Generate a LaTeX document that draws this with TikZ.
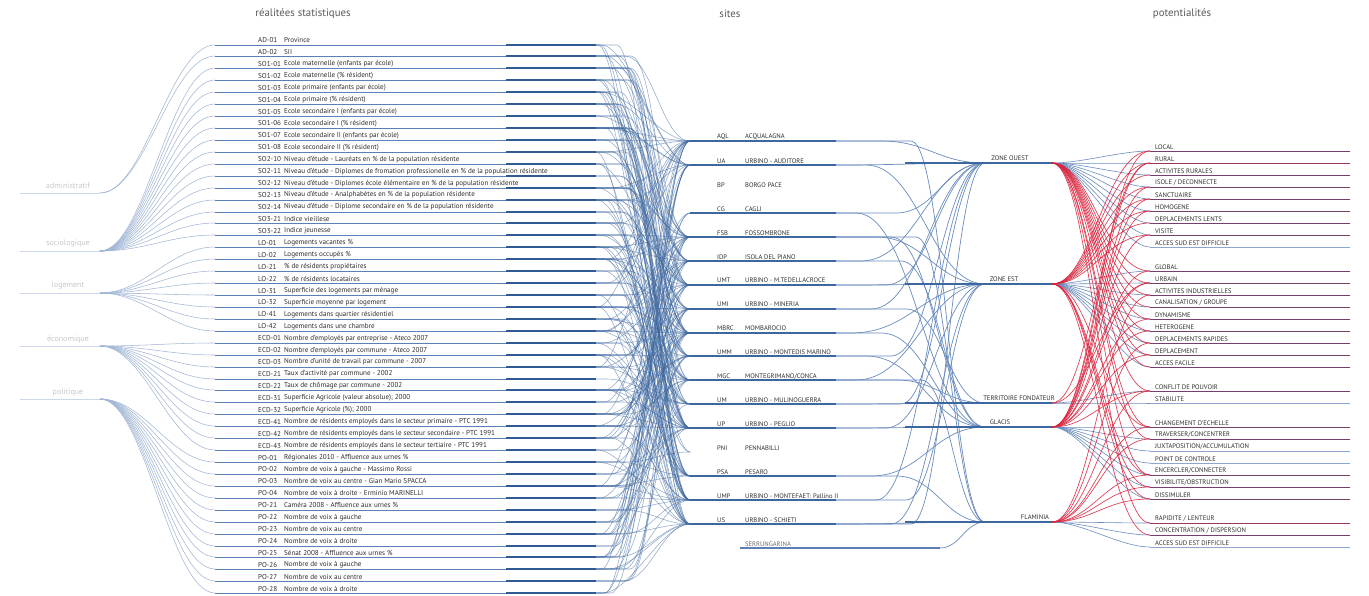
\documentclass[tikz,border=0pt]{standalone}
\usepackage{fontspec}
\setmainfont{PT Sans}
\usetikzlibrary{calc}
\definecolor{txt}{HTML}{2E2E2E}
\definecolor{head}{HTML}{5A5A5A}
\definecolor{catgray}{HTML}{C8C8C8}
\definecolor{bl}{HTML}{3D679F}
\definecolor{bld}{HTML}{2F5A94}
\definecolor{blr}{HTML}{5A80B5}
\definecolor{blm}{HTML}{6A8CBE}
\definecolor{blc}{HTML}{A3B8D6}
\definecolor{bll}{HTML}{CCD8EA}
\definecolor{rd}{HTML}{D9263F}
\definecolor{pu}{HTML}{74406E}
\definecolor{pr}{HTML}{9B3560}
\definecolor{pb}{HTML}{8DA7CE}
\begin{document}
\begin{tikzpicture}[x=1pt,y=-1pt,
 lbl/.style={anchor=west,inner sep=0pt,font=\fontsize{7.1}{8}\selectfont,text=txt},
 clbl/.style={anchor=west,inner sep=0pt,font=\fontsize{6.6}{7}\selectfont,text=txt},
 zlbl/.style={inner sep=0pt,font=\fontsize{6.6}{7}\selectfont,text=txt},
 catlbl/.style={inner sep=0pt,font=\fontsize{8}{9}\selectfont,text=catgray},
 headlbl/.style={inner sep=0pt,font=\fontsize{10.8}{12}\selectfont,text=head},
 catline/.style={draw=bll,line width=0.9},
 catcurve/.style={draw=blc,line width=0.55},
 rowline/.style={draw=blr,line width=1.0},
 rowdark/.style={draw=bld,line width=1.2},
 rscurve/.style={draw=bl,line width=0.55,opacity=0.55},
 siteline/.style={draw=bl,line width=1.1},
 szcurve/.style={draw=blm,line width=0.7},
 zoneline/.style={draw=bl,line width=1.2},
 bfan/.style={draw=blm,line width=0.6},
 rfan/.style={draw=rd,line width=0.65,opacity=0.9},
 potline/.style={line width=1.0},
]
\useasboundingbox (0,0) rectangle (1369,595);
\fill[white] (0,0) rectangle (1369,595);

% headers
\node[headlbl] (h1) at (303,14) {réalitées statistiques};
\node[headlbl] (h2) at (730,14) {sites};
\node[headlbl] (h3) at (1182,14) {potentialités};

% categories
\foreach \kk/\cy/\ctext in {1/193/administratif,2/251/sociologique,3/293/logement,4/346/économique,5/399/politique}{
  \node[catlbl] (cl\kk) at (68,\cy-7) {\ctext};
  \coordinate (cs\kk) at (20,\cy);
  \coordinate (c\kk) at (100,\cy);
  \draw[catline] (cs\kk) -- (c\kk);
}

% rows
\foreach \rcode/\rname [count=\ii] in {AD-01/Province,AD-02/SII,
SO1-01/Ecole maternelle (enfants par école),SO1-02/Ecole maternelle (\% résident),
SO1-03/Ecole primaire (enfants par école),SO1-04/Ecole primaire (\% résident),
SO1-05/Ecole secondaire I (enfants par école),SO1-06/Ecole secondaire I (\% résident),
SO1-07/Ecole secondaire II (enfants par école),SO1-08/Ecole secondaire II (\% résident),
SO2-10/Niveau d'étude - Lauréats en \% de la population résidente,
SO2-11/Niveau d'étude - Diplomes de fromation professionelle en \% de la population résidente,
SO2-12/Niveau d'étude - Diplomes école élémentaire en \% de la population résidente,
SO2-13/Niveau d'étude - Analphabètes en \% de la population résidente,
SO2-14/Niveau d'étude - Diplome secondaire en \% de la population résidente,
SO3-21/Indice vieillese,SO3-22/Indice jeunesse,
LO-01/Logements vacantes \%,LO-02/Logements occupés \%,
LO-21/\% de résidents propiétaires,LO-22/\% de résidents locataires,
LO-31/Superficie des logements par ménage,LO-32/Superficie moyenne par logement,
LO-41/Logements dans quartier résidentiel,LO-42/Logements dans une chambre,
ECD-01/Nombre d'employés par entreprise - Ateco 2007,
ECD-02/Nombre d'employés par commune - Ateco 2007,
ECD-03/Nombre d'unité de travail par commune - 2007,
ECD-21/Taux d'activité par commune - 2002,
ECD-22/Taux de chômage par commune - 2002,
ECD-31/Superficie Agricole (valeur absolue); 2000,
ECD-32/Superficie Agricole (\%); 2000,
ECD-41/Nombre de résidents employés dans le secteur primaire - PTC 1991,
ECD-42/Nombre de résidents employés dans le secteur secondaire - PTC 1991,
ECD-43/Nombre de résidents employés dans le secteur tertiaire - PTC 1991,
PO-01/Régionales 2010 - Affluence aux urnes \%,
PO-02/Nombre de voix à gauche - Massimo Rossi,
PO-03/Nombre de voix au centre - Gian Mario SPACCA,
PO-04/Nombre de voix à droite - Erminio MARINELLI,
PO-21/Caméra 2008 - Affluence aux urnes \%,
PO-22/Nombre de voix à gauche,PO-23/Nombre de voix au centre,PO-24/Nombre de voix à droite,
PO-25/Sénat 2008 - Affluence aux urnes \%,
PO-26/Nombre de voix à gauche,PO-27/Nombre de voix au centre,PO-28/Nombre de voix à droite}{
  \pgfmathsetmacro\yy{40+11.93*(\ii-1)}
  \pgfmathsetmacro\yl{round(\yy+4.5)}
  \node[lbl] (rc\ii) at (258,\yy) {\rcode};
  \node[lbl] (rt\ii) at (284,\yy) {\rname};
  \coordinate (rl\ii) at (215,\yl);
  \coordinate (r\ii) at (596,\yl);
}

% category fans and row lines
\foreach \ii in {1,...,47}{
  \pgfmathtruncatemacro\kk{\ii<3 ? 1 : (\ii<18 ? 2 : (\ii<26 ? 3 : (\ii<36 ? 4 : 5)))}
  \draw[catcurve] (c\kk) .. controls +(45,0) and +(-45,0) .. (rl\ii);
  \draw[rowline] (rl\ii) -- (r\ii);
  \draw[rowdark] ($(r\ii)-(90,0)$) -- (r\ii);
}

% sites
\foreach \scode/\sname [count=\jj] in {AQL/ACQUALAGNA,UA/URBINO - AUDITORE,BP/BORGO PACE,CG/CAGLI,FSB/FOSSOMBRONE,IDP/ISOLA DEL PIANO,UMT/URBINO - M.TEDELLACROCE,UMI/URBINO - MINERIA,MBRC/MOMBAROCIO,UMM/URBINO - MONTEDIS MARINO,MGC/{MONTEGRIMANO/CONCA},UM/URBINO - MULINOGUERRA,UP/URBINO - PEGLIO,PNI/PENNABILLI,PSA/PESARO,UMP/URBINO - MONTEFAET: Pallino II,US/URBINO - SCHIETI}{
  \pgfmathsetmacro\yy{137+23.94*(\jj-1)}
  \pgfmathsetmacro\yl{round(\yy+4)}
  \node[clbl] (sc\jj) at (717,\yy) {\scode};
  \node[clbl] (st\jj) at (745,\yy) {\sname};
  \coordinate (s\jj) at (690,\yl);
  \coordinate (se\jj) at (836,\yl);
}
\node[clbl,text=txt!70] (st18) at (745,544) {SERRUNGARINA};
\coordinate (s18) at (740,548);
\coordinate (se18) at (940,548);

% rows -> sites
\pgfmathsetseed{7}
\foreach \ii in {1,...,47}{
  \foreach \jj in {1,...,17}{
    \pgfmathsetmacro\uu{rnd}
    \pgfmathsetmacro\pp{{0.42,0.38,0.05,0.07,0.42,0.38,0.38,0.38,0.42,0.32,0.32,0.32,0.32,0.04,0.32,0.36,0.36}[\jj-1]}
    \ifdim\uu pt<\pp pt
      \pgfmathsetmacro\dd{35*rnd}
      \draw[rscurve] (r\ii) -- ++(\dd,0) .. controls +(28,0) and +(-28,0) .. (s\jj);
    \fi
  }
}

% site lines
\foreach \jj in {1,2,4,5,6,7,8,9,10,11,12,13,15,16,17}{
  \draw[siteline] (s\jj) -- (se\jj);
}
\draw[siteline,draw=blr] (s18) -- (se18);

% zones
\foreach \kk/\zy/\zx/\ztext in {1/163/1010/ZONE OUEST,2/284/1004/ZONE EST,3/403/1019/TERRITOIRE FONDATEUR,4/427/1000/GLACIS,5/522/1035/FLAMINIA}{
  \coordinate (zs\kk) at (905,\zy);
  \coordinate (zi\kk) at (985,\zy);
  \coordinate (zo\kk) at (1052,\zy);
  \node[zlbl] (zl\kk) at (\zx,\zy-4.5) {\ztext};
}

% sites -> zones
\foreach \jj/\kk/\ax in {1/1/45,1/5/75,2/1/0,2/2/30,4/1/60,4/4/20,5/2/40,5/4/55,5/5/80,6/1/25,6/4/65,7/2/0,7/1/50,8/1/35,8/3/70,9/2/15,9/4/45,10/1/55,10/4/30,11/2/20,11/3/60,11/5/85,12/3/0,12/1/65,13/4/0,13/2/50,15/4/35,15/5/60,16/1/40,16/2/70,17/5/0,17/1/75,17/2/55}{
  \pgfmathsetmacro\cs{0.45*(149-\ax)}
  \draw[szcurve] (se\jj) -- ++(\ax,0) .. controls +(\cs,0) and +(-\cs,0) .. (zi\kk);
}
\draw[szcurve] (se18) .. controls +(20,0) and +(-20,0) .. (zi5);

\foreach \kk in {1,...,5}{
  \draw[zoneline] (zs\kk) -- (zo\kk);
}

% potentials
\foreach \py/\ptext [count=\mm] in {147/LOCAL,159/RURAL,171/ACTIVITES RURALES,183/{ISOLE / DECONNECTE},195/SANCTUAIRE,207/HOMOGENE,219/DEPLACEMENTS LENTS,231/VISITE,243/ACCES SUD EST DIFFICILE,267/GLOBAL,279/URBAIN,291/ACTIVITES INDUSTRIELLES,303/{CANALISATION / GROUPE},315/DYNAMISME,327/HETEROGENE,339/DEPLACEMENTS RAPIDES,351/DEPLACEMENT,363/ACCES FACILE,387/CONFLIT DE POUVOIR,399/STABILITE,423/CHANGEMENT D'ECHELLE,435/{TRAVERSER/CONCENTRER},447/{JUXTAPOSITION/ACCUMULATION},459/POINT DE CONTROLE,471/{ENCERCLER/CONNECTER},483/{VISIBILITE/OBSTRUCTION},495/DISSIMULER,519/{RAPIDITE / LENTEUR},531/{CONCENTRATION / DISPERSION},543/ACCES SUD EST DIFFICILE}{
  \node[clbl] (pt\mm) at (1155,\py) {\ptext};
  \coordinate (p\mm) at (1150,\py+4);
  \coordinate (pe\mm) at (1350,\py+4);
}

% zones -> potentials (blue)
\foreach \mm in {1,...,9}{\draw[bfan] (zo1) .. controls +(30,0) and +(-30,0) .. (p\mm);}
\foreach \mm in {10,...,18}{\draw[bfan] (zo2) .. controls +(30,0) and +(-30,0) .. (p\mm);}
\foreach \mm in {19,20}{\draw[bfan] (zo3) .. controls +(30,0) and +(-30,0) .. (p\mm);}
\foreach \mm in {21,...,27}{\draw[bfan] (zo4) .. controls +(30,0) and +(-30,0) .. (p\mm);}
\foreach \mm in {28,29,30}{\draw[bfan] (zo5) .. controls +(30,0) and +(-30,0) .. (p\mm);}

% zones -> potentials (red)
\foreach \kk/\mm in {1/10,1/11,1/12,1/13,1/14,1/15,1/16,1/17,1/18,1/19,1/21,1/22,1/25,1/28,
2/1,2/2,2/3,2/4,2/5,2/6,2/7,2/8,2/21,2/25,2/26,2/27,2/29,
3/2,3/11,
4/1,4/2,4/4,4/5,4/6,4/8,4/10,4/11,4/14,4/15,4/17,4/19,
5/12,5/16,5/19,5/21,5/22,5/25,5/26,5/27}{
  \draw[rfan] (zo\kk) .. controls +(40,0) and +(-45,0) .. (p\mm);
}

% potential lines
\foreach \mm/\pc in {1/pu,2/pr,3/pu,4/pu,5/pu,6/pu,7/pu,8/pu,9/pb,10/pu,11/pu,12/pu,13/pu,14/pu,15/pu,16/pu,17/pu,18/pu,19/pu,20/pb,21/pu,22/pu,23/pb,24/pb,25/pu,26/pu,27/pu,28/pr,29/pu,30/pb}{
  \draw[potline,draw=\pc] (p\mm) -- (pe\mm);
}
\end{tikzpicture}
\end{document}
